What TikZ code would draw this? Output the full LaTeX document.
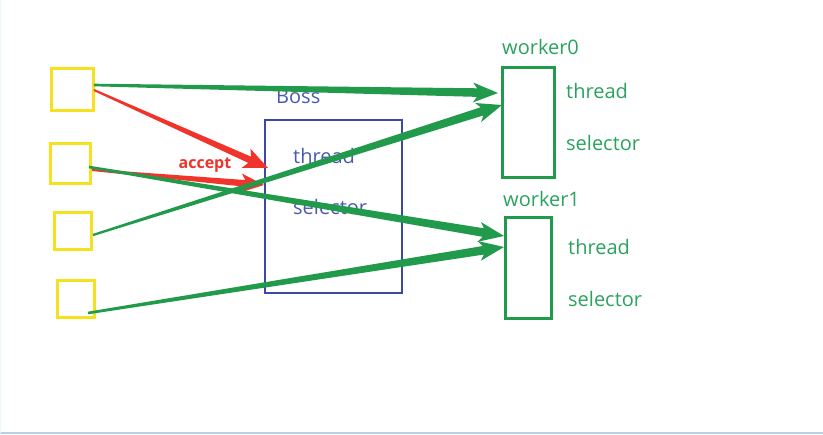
\documentclass[tikz,border=0pt]{standalone}
\usepackage{fontspec}
\setmainfont{Open Sans}
\usetikzlibrary{calc}
\definecolor{ygold}{HTML}{F5E11E}
\definecolor{gline}{HTML}{219A4C}
\definecolor{gtext}{HTML}{2BA35E}
\definecolor{bbox}{HTML}{3A48A8}
\definecolor{btext}{HTML}{4A5AB0}
\definecolor{rarrow}{HTML}{F0332B}
\definecolor{edge}{HTML}{B9D0EA}
\newcommand{\tarrow}[7]{% style, start, end, tail hw, neck hw, head hw, head length
  \path ($(#3)!#7!(#2)$) coordinate (tmpN);
  \path ($(#3)!#7+4pt!(#2)$) coordinate (tmpH);
  \fill[#1] ($(#2)!#4!90:(#3)$) -- ($(tmpN)!#5!90:(#3)$) -- ($(tmpH)!#6!90:(#3)$)
    -- (#3) -- ($(tmpH)!#6!-90:(#3)$) -- ($(tmpN)!#5!-90:(#3)$) -- ($(#2)!#4!-90:(#3)$) -- cycle;
}
\tikzset{
  ybox/.style={draw=ygold, line width=3pt, minimum width=#1, minimum height=#1, inner sep=0pt},
  wbox/.style={draw=gline, line width=2.4pt, inner sep=0pt},
  lbl/.style={anchor=west, inner sep=0pt, font=\fontsize{20}{20}\selectfont},
}
\begin{document}
\begin{tikzpicture}[x=1pt,y=-1pt]
\useasboundingbox (0,0) rectangle (823,435);
\fill[white] (0,0) rectangle (823,435);
\draw[edge, line width=2pt] (0,433) -- (823,433);
\draw[cyan!8, line width=1pt] (0.5,0) -- (0.5,433);

% yellow sources
\node[ybox=42pt] (s1) at (72,89.5) {};
\node[ybox=40pt] (s2) at (70.5,163.5) {};
\node[ybox=37pt] (s3) at (73,231) {};
\node[ybox=37pt] (s4) at (75.5,299) {};

% boss
\node[draw=bbox, line width=2pt, minimum width=137pt, minimum height=173pt, inner sep=0pt] (boss) at (333.5,206.5) {};
\node[lbl, text=btext] (bossl) at (276,96) {Boss};
\node[lbl, text=btext] (bt) at (293,156) {thread};
\node[lbl, text=btext] (bs) at (293,207) {selector};

% workers
\node[wbox, minimum width=52pt, minimum height=110pt] (w0) at (528.5,122.5) {};
\node[wbox, minimum width=46pt, minimum height=101pt] (w1) at (528.5,268) {};
\node[lbl, text=gtext] (w0l) at (502,47) {worker0};
\node[lbl, text=gtext] (w0t) at (566,91) {thread};
\node[lbl, text=gtext] (w0s) at (566,143) {selector};
\node[lbl, text=gtext] (w1l) at (503,199) {worker1};
\node[lbl, text=gtext] (w1t) at (568,247) {thread};
\node[lbl, text=gtext] (w1s) at (568,299) {selector};

% arrow end points
\coordinate (a1) at (94,90);
\coordinate (a2) at (92,170);
\coordinate (g1) at (94,85);
\coordinate (g2) at (89,167);
\coordinate (g3) at (93,235);
\coordinate (g4) at (88,313);
\coordinate (r1) at (268,168);
\coordinate (r2) at (264,185);
\coordinate (t1) at (498,93);
\coordinate (t2) at (502,105);
\coordinate (t3) at (504,236);
\coordinate (t4) at (504,247);

% red accept arrows
\tarrow{rarrow}{a1}{r1}{1pt}{3.4pt}{10.5pt}{20pt}
\tarrow{rarrow}{a2}{r2}{1pt}{3.3pt}{9.5pt}{19pt}
\node[inner sep=0pt, text=rarrow, font=\bfseries\fontsize{16}{16}\selectfont] (acc) at (205,165) {accept};

% green arrows
\tarrow{gline}{g1}{t1}{1.3pt}{4.3pt}{10pt}{21pt}
\tarrow{gline}{g2}{t3}{1.3pt}{4.3pt}{10pt}{21pt}
\tarrow{gline}{g3}{t2}{1.1pt}{4.3pt}{10pt}{21pt}
\tarrow{gline}{g4}{t4}{1.3pt}{4.3pt}{10pt}{21pt}
\end{tikzpicture}
\end{document}
